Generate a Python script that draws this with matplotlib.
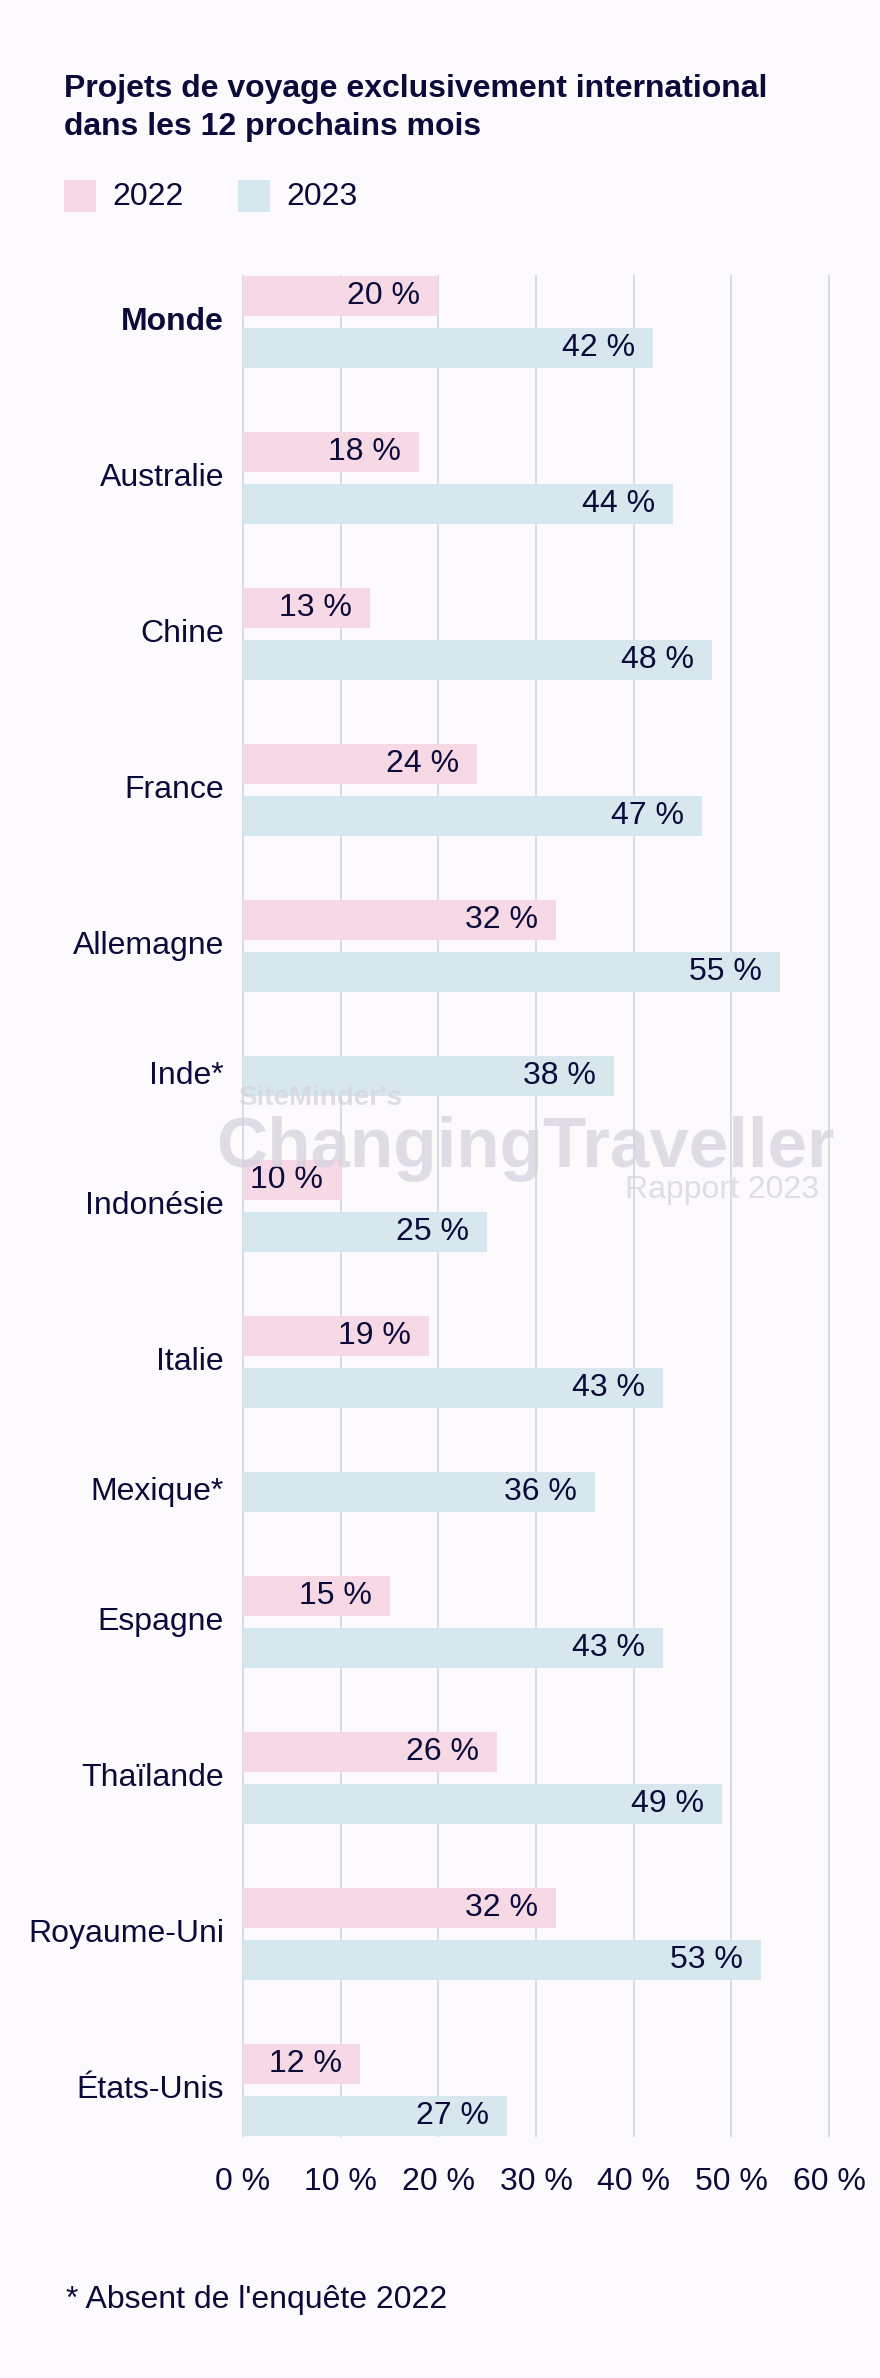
import matplotlib.pyplot as plt
from matplotlib.patches import Rectangle

# Data
countries = ['Monde', 'Australie', 'Chine', 'France', 'Allemagne', 'Inde*', 'Indonésie',
             'Italie', 'Mexique*', 'Espagne', 'Thaïlande', 'Royaume-Uni', 'États-Unis']
values_2022 = [20, 18, 13, 24, 32, None, 10, 19, None, 15, 26, 32, 12]
values_2023 = [42, 44, 48, 47, 55, 38, 25, 43, 36, 43, 49, 53, 27]
ticks = [0, 10, 20, 30, 40, 50, 60]

# Colors
bg = '#fcfafc'
navy = '#0b0b3b'
pink = '#f7d9e5'
blue = '#d6e8ee'
grid_c = '#d6d9db'

FONT = ['Liberation Sans Narrow', 'Liberation Sans', 'DejaVu Sans']
plt.rcParams['font.family'] = FONT
FS = 23

W, H = 880, 2378
fig = plt.figure(figsize=(W / 100, H / 100), dpi=100, facecolor=bg)

# layout (pixel units)
bar_h, inner_gap, group_gap = 40, 12, 64
ax_top, ax_bottom = 276, 2136
x0_px, x60_px = 243, 829

ax = fig.add_axes([x0_px / W, 1 - ax_bottom / H, (x60_px - x0_px) / W, (ax_bottom - ax_top) / H])
ax.set_facecolor('none')

# stack bars, skipping missing ones
y = 0
label_pos = []
bars22, bars23 = [], []
for v22, v23 in zip(values_2022, values_2023):
    start = y
    if v22 is not None:
        bars22.append((y + bar_h / 2, v22))
        y += bar_h + inner_gap
    bars23.append((y + bar_h / 2, v23))
    y += bar_h
    label_pos.append((start + y) / 2)
    y += group_gap
total = y - group_gap

ax.set_xlim(0, 60)
ax.set_ylim(total, 0)

for t in ticks:
    ax.axvline(t, color=grid_c, linewidth=1.3, zorder=0, clip_on=False)

ax.barh([p for p, _ in bars22], [v for _, v in bars22], height=bar_h, color=pink, zorder=2)
ax.barh([p for p, _ in bars23], [v for _, v in bars23], height=bar_h, color=blue, zorder=2)

px = 60 / (x60_px - x0_px)  # data units per pixel
for p, v in bars22 + bars23:
    ax.text(v - 18 * px, p, f'{v} %', ha='right', va='center', fontsize=FS, color=navy, zorder=3)

for i, (name, p) in enumerate(zip(countries, label_pos)):
    ax.text(-19 * px, p, name, ha='right', va='center', fontsize=FS, color=navy,
            fontweight='bold' if i == 0 else 'normal', clip_on=False)

ax.set_xticks(ticks)
ax.set_xticklabels([f'{t} %' for t in ticks], fontsize=FS, color=navy)
ax.tick_params(axis='x', length=0, pad=22)
ax.set_yticks([])
for s in ax.spines.values():
    s.set_visible(False)

# Title (two lines, baselines placed separately)
fig.text(64 / W, 1 - 97 / H, 'Projets de voyage exclusivement international',
         fontsize=FS, fontweight='bold', color=navy, ha='left', va='baseline')
fig.text(64 / W, 1 - 135 / H, 'dans les 12 prochains mois',
         fontsize=FS, fontweight='bold', color=navy, ha='left', va='baseline')

# Legend
fig.patches.append(Rectangle((64 / W, 1 - 212 / H), 32 / W, 32 / H, transform=fig.transFigure,
                             facecolor=pink, edgecolor='none'))
fig.text(112 / W, 1 - 197 / H, '2022', fontsize=FS, color=navy, va='center')
fig.patches.append(Rectangle((238 / W, 1 - 212 / H), 32 / W, 32 / H, transform=fig.transFigure,
                             facecolor=blue, edgecolor='none'))
fig.text(286 / W, 1 - 197 / H, '2023', fontsize=FS, color=navy, va='center')

# Watermark
wm = '#d6d3de'
wm_font = ['Liberation Sans', 'DejaVu Sans']
fig.text(238 / W, 1 - 1105 / H, "SiteMinder's", fontsize=20, fontweight='bold', color=wm,
         alpha=0.75, family=wm_font, va='baseline')
fig.text(216 / W, 1 - 1167 / H, 'ChangingTraveller', fontsize=51, fontweight='bold', color=wm,
         alpha=0.75, family=wm_font, va='baseline')
fig.text(819 / W, 1 - 1198 / H, 'Rapport 2023', fontsize=23, color=wm,
         alpha=0.75, family=wm_font, va='baseline', ha='right')

# Footnote
fig.text(66 / W, 1 - 2308 / H, "* Absent de l'enquête 2022", fontsize=FS, color=navy, va='baseline')

fig.savefig('out.png', dpi=100, facecolor=bg)
